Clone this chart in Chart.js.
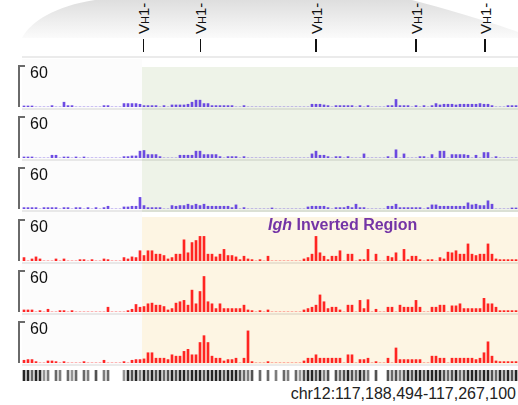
<!DOCTYPE html>
<html>
<head>
<meta charset="utf-8">
<title>Igh coverage</title>
<script src="https://cdn.jsdelivr.net/npm/chart.js@4.4.1/dist/chart.umd.min.js"></script>
<style>
  html, body { margin: 0; padding: 0; background: #fff; }
  #view { position: relative; width: 518px; height: 405px; overflow: hidden; font-family: "Liberation Sans", Arial, sans-serif; }
  .box { position: absolute; }
  .track { position: absolute; left: 0; width: 518px; }
  .track canvas { display: block; }
  .sep { position: absolute; left: 22px; width: 496px; height: 2px; background: rgba(0, 0, 0, 0.08); }
  .vh { position: absolute; font-size: 15px; line-height: 14px; white-space: nowrap; color: #111; transform-origin: 0 0; transform: rotate(-90deg); }
  .vh small { font-size: 11px; }
  .vtick { position: absolute; top: 39px; width: 1.5px; height: 13px; background: #111; }
  #title { position: absolute; left: 268px; top: 216px; font-weight: bold; font-size: 16px; color: #7434a6; white-space: nowrap; }
  #locus { position: absolute; right: 2px; top: 385px; font-size: 16px; color: #222; white-space: nowrap; }
</style>
</head>
<body>
<div id="view">
  <svg class="box" style="left:0;top:0" width="518" height="40">
    <defs>
      <linearGradient id="zoomFade" x1="0" y1="0" x2="0" y2="1">
        <stop offset="0" stop-color="#dedede"/>
        <stop offset="1" stop-color="#fbfbfb"/>
      </linearGradient>
    </defs>
    <path d="M22 38 C 30 22, 55 6, 95 0 L 412 0 C 450 10, 490 22, 518 32 L 518 38 Z" fill="url(#zoomFade)"/>
  </svg>
  <div class="sep" style="top:56px"></div>
  <div class="box" style="left:22px;top:59px;width:120px;height:305px;background:#fcfcfc"></div>
  <div class="box" style="left:142px;top:67px;width:376px;height:145px;background:#eef3e8"></div>
  <div class="box" style="left:142px;top:217px;width:376px;height:147px;background:#fdf5e3"></div>
  <div id="title"><i>Igh</i> Inverted Region</div>
  <div id="locus">chr12:117,188,494-117,267,100</div>
</div>
<script>
// coverage per 4px bin, 124 bins across chr12:117,188,494-117,267,100
const blueTrack1 = [
  1.5, 1.5, 1.5, 0, 0, 0, 0, 2, 0, 0,
  7, 2, 2, 0, 0, 0, 0, 0, 0, 0,
  2, 2, 0, 0, 0, 5, 5, 5, 5, 4,
  2, 2, 2, 2, 0, 2, 0, 3, 3, 3,
  3, 4, 7, 10, 10, 5, 5, 2, 2, 2,
  2, 2, 2, 0, 0, 2, 0, 0, 0, 0,
  0, 0, 0, 0, 0, 0, 0, 0, 0, 0,
  0, 0, 4, 4, 4, 3, 2, 0, 2, 2,
  2, 2, 2, 0, 2, 0, 2, 0, 0, 0,
  0, 2, 2, 11, 2, 2, 2, 0, 2, 0,
  2, 0, 2, 5, 3, 4, 4, 4, 3, 4,
  4, 4, 4, 4, 5, 4, 4, 2, 0, 0,
  0, 2, 2, 2
];
const blueTrack2 = [
  1.5, 1.5, 1.5, 0, 0, 0, 0, 4, 4, 0,
  1.5, 1.5, 0, 1.5, 0, 1.5, 0, 0, 0, 0,
  0, 0, 0, 0, 0, 2, 2, 3, 3, 10,
  11, 5, 5, 5, 2, 0, 0, 0, 0, 4,
  4, 4, 4, 10, 10, 5, 5, 5, 5, 2,
  0, 2, 2, 2, 0, 2, 0, 0, 0, 0,
  0, 0, 0, 0, 0, 0, 0, 0, 0, 0,
  0, 0, 6, 10, 4, 4, 2, 0, 2, 2,
  0, 2, 0, 0, 0, 6, 0, 0, 0, 0,
  0, 2, 0, 12, 0, 6, 0, 0, 0, 2,
  2, 0, 5, 0, 10, 10, 0, 5, 5, 5,
  5, 4, 0, 4, 0, 8, 8, 0, 2, 0,
  0, 0, 0, 0
];
const blueTrack3 = [
  2, 2, 2, 2, 0, 2, 2, 2, 2, 0,
  2, 2, 0, 2, 2, 0, 2, 0, 2, 0,
  2, 4, 0, 0, 0, 3, 3, 4, 4, 17,
  5, 2, 2, 2, 2, 0, 0, 5, 4, 5,
  5, 7, 5, 7, 5, 7, 4, 4, 4, 4,
  4, 4, 2, 6, 0, 2, 0, 0, 0, 0,
  0, 0, 1.5, 0, 0, 0, 0, 0, 0, 0,
  0, 3, 4, 4, 4, 4, 2, 0, 2, 2,
  2, 4, 2, 7, 2, 2, 0, 0, 0, 0,
  0, 4, 4, 7, 2, 2, 2, 2, 2, 2,
  0, 2, 6, 6, 4, 4, 4, 4, 4, 4,
  4, 9, 6, 7, 5, 5, 12, 7, 0, 0,
  0, 0, 1.5, 1.5
];
const redTrack1 = [
  5, 0, 3, 6, 3, 0, 0, 0, 3, 0,
  3, 0, 0, 0, 2, 2, 0, 2, 0, 0,
  3, 2, 0, 0, 0, 5, 3, 6, 5, 15,
  8, 15, 15, 10, 10, 8, 3, 5, 10, 10,
  31, 12, 27, 30, 36, 36, 10, 10, 6, 10,
  17, 8, 8, 6, 2, 7, 3, 2, 0, 2,
  0, 7, 0, 0, 0, 0, 0, 0, 0, 0,
  3, 5, 10, 36, 12, 7, 2, 7, 7, 15,
  0, 10, 10, 0, 2, 2, 17, 0, 10, 0,
  0, 7, 5, 12, 0, 17, 2, 7, 7, 2,
  0, 2, 2, 0, 5, 3, 13, 12, 15, 10,
  10, 25, 10, 8, 10, 10, 25, 10, 3, 2,
  2, 2, 2, 2
];
const redTrack2 = [
  3, 3, 3, 0, 2, 0, 4, 0, 0, 2,
  2, 0, 2, 0, 0, 0, 0, 0, 0, 0,
  0, 7, 0, 0, 0, 0, 2, 4, 11, 7,
  8, 12, 13, 10, 10, 8, 3, 5, 13, 15,
  17, 10, 32, 12, 30, 52, 15, 12, 5, 12,
  5, 5, 5, 5, 5, 10, 3, 2, 0, 2,
  0, 3, 0, 0, 0, 0, 0, 0, 0, 0,
  3, 5, 7, 10, 25, 15, 5, 7, 7, 3,
  0, 10, 10, 0, 17, 5, 18, 0, 4, 0,
  0, 7, 7, 0, 10, 7, 7, 7, 17, 7,
  0, 0, 7, 7, 10, 10, 0, 9, 9, 12,
  5, 5, 5, 5, 5, 20, 12, 12, 7, 2,
  2, 2, 2, 2
];
const redTrack3 = [
  4, 5, 5, 2, 0, 0, 3, 3, 2, 0,
  2, 0, 0, 0, 0, 2, 0, 0, 0, 0,
  4, 0, 0, 0, 0, 2, 0, 4, 5, 5,
  6, 15, 15, 7, 7, 7, 5, 12, 10, 10,
  17, 20, 12, 12, 30, 40, 30, 10, 7, 7,
  3, 5, 5, 7, 0, 7, 47, 2, 0, 0,
  0, 2, 0, 0, 0, 0, 0, 0, 0, 0,
  3, 7, 7, 12, 7, 7, 7, 7, 7, 7,
  0, 12, 12, 0, 5, 5, 7, 0, 2, 0,
  0, 7, 0, 22, 5, 5, 5, 5, 5, 5,
  0, 0, 10, 10, 7, 7, 0, 7, 7, 7,
  7, 7, 7, 5, 7, 15, 31, 10, 3, 2,
  2, 2, 2, 2
];
// gene annotation density per bin (0 = no feature)
const geneDensity = [
  1, 1, 0.7, 1, 1, 0.5, 0.6, 0, 0.7, 0.6,
  0, 0.7, 0.5, 0.7, 0, 0.7, 0.6, 0, 0.8, 0,
  0.6, 0.7, 0, 0, 0, 0.5, 1, 0.8, 1, 0.6,
  1, 0.8, 1, 0.8, 1, 0.7, 0.8, 1, 0.8, 1,
  1, 0.8, 1, 1, 1, 0.8, 1, 1, 1, 1,
  0.8, 1, 1, 1, 0.8, 0.7, 0.6, 0.8, 0, 0.7,
  0, 0.7, 0, 0.6, 0, 0.7, 0.6, 0, 0.7, 0.5,
  0.8, 1, 1, 0.8, 1, 0.6, 0.8, 0, 0.8, 0.7,
  0.8, 1, 0.8, 0.7, 1, 0.8, 0.6, 0, 0.8, 0,
  0, 0.8, 0.7, 0.8, 0.6, 0.8, 1, 0.8, 1, 1,
  0.8, 1, 1, 1, 1, 0.8, 0.7, 0.8, 1, 0.7,
  0.8, 1, 1, 1, 0.8, 1, 1, 0.8, 0.7, 1,
  0.8, 1, 0.8, 1
];
// VH1 gene positions, in bin units
const vhGenes = [29.9, 44.1, 73, 98, 115.25];
const trackMax = 60;

const blueBar = 'rgba(84, 44, 222, 0.85)';
const redBar = 'rgba(255, 0, 0, 0.85)';
const trackBaselines = [107, 158, 209, 261, 312, 363];
const view = document.getElementById('view');

// the "60" bracket on the left of each coverage track
const scaleBracket = {
  id: 'scaleBracket',
  afterDraw(chart) {
    const { ctx, chartArea, scales: { y } } = chart;
    const top = y.getPixelForValue(trackMax);
    const bottom = y.getPixelForValue(0);
    const x = chartArea.left - 3;
    ctx.save();
    ctx.strokeStyle = '#6a6a6a';
    ctx.lineWidth = 2;
    ctx.beginPath();
    ctx.moveTo(x, bottom);
    ctx.lineTo(x, top);
    ctx.lineTo(x + 6, top);
    ctx.stroke();
    ctx.fillStyle = '#111';
    ctx.font = '16px "Liberation Sans", Arial, sans-serif';
    ctx.textBaseline = 'alphabetic';
    ctx.fillText(String(trackMax), x + 11, top + 12);
    ctx.restore();
  }
};

function addCanvas(top, height) {
  const holder = document.createElement('div');
  holder.className = 'track';
  holder.style.top = top + 'px';
  holder.style.height = height + 'px';
  const canvas = document.createElement('canvas');
  canvas.width = 518;
  canvas.height = height;
  holder.appendChild(canvas);
  view.insertBefore(holder, document.getElementById('title'));
  return canvas;
}

function makeTrack(values, color, baseline) {
  const sep = document.createElement('div');
  sep.className = 'sep';
  sep.style.top = (baseline + 1) + 'px';
  view.insertBefore(sep, document.getElementById('title'));

  const canvas = addCanvas(baseline - 44, 45);
  return new Chart(canvas, {
    type: 'bar',
    data: {
      labels: values.map((_, i) => i),
      datasets: [{ data: values, backgroundColor: color, borderWidth: 0, barThickness: 2 }]
    },
    options: {
      responsive: false,
      animation: false,
      events: [],
      layout: { padding: { left: 22, right: 0, top: 3, bottom: 1 } },
      plugins: { legend: { display: false }, tooltip: { enabled: false } },
      scales: {
        x: { display: false },
        y: { display: false, min: 0, max: trackMax }
      }
    },
    plugins: [scaleBracket]
  });
}

const series = [blueTrack1, blueTrack2, blueTrack3, redTrack1, redTrack2, redTrack3];
const charts = series.map((values, i) =>
  makeTrack(values, i < 3 ? blueBar : redBar, trackBaselines[i]));

// gene annotation strip
const geneCanvas = addCanvas(369, 13);
new Chart(geneCanvas, {
  type: 'bar',
  data: {
    labels: geneDensity.map((_, i) => i),
    datasets: [{
      data: geneDensity.map(d => (d > 0 ? 1 : 0)),
      backgroundColor: geneDensity.map(d => `rgba(0, 0, 0, ${(d * 0.85).toFixed(2)})`),
      borderWidth: 0,
      barThickness: 2
    }]
  },
  options: {
    responsive: false,
    animation: false,
    events: [],
    layout: { padding: { left: 22, right: 0, top: 1, bottom: 1 } },
    plugins: { legend: { display: false }, tooltip: { enabled: false } },
    scales: { x: { display: false }, y: { display: false, min: 0, max: 1 } }
  }
});

// VH1 labels along the top, placed with the track x scale
const xScale = charts[0].scales.x;
vhGenes.forEach(bin => {
  const x = xScale.getPixelForValue(bin);
  const tick = document.createElement('div');
  tick.className = 'vtick';
  tick.style.left = (x - 0.75) + 'px';
  view.appendChild(tick);
  const label = document.createElement('div');
  label.className = 'vh';
  label.innerHTML = 'V<small>H</small>1-';
  label.style.left = (x - 6.5) + 'px';
  label.style.top = '34px';
  view.appendChild(label);
});
</script>
</body>
</html>
